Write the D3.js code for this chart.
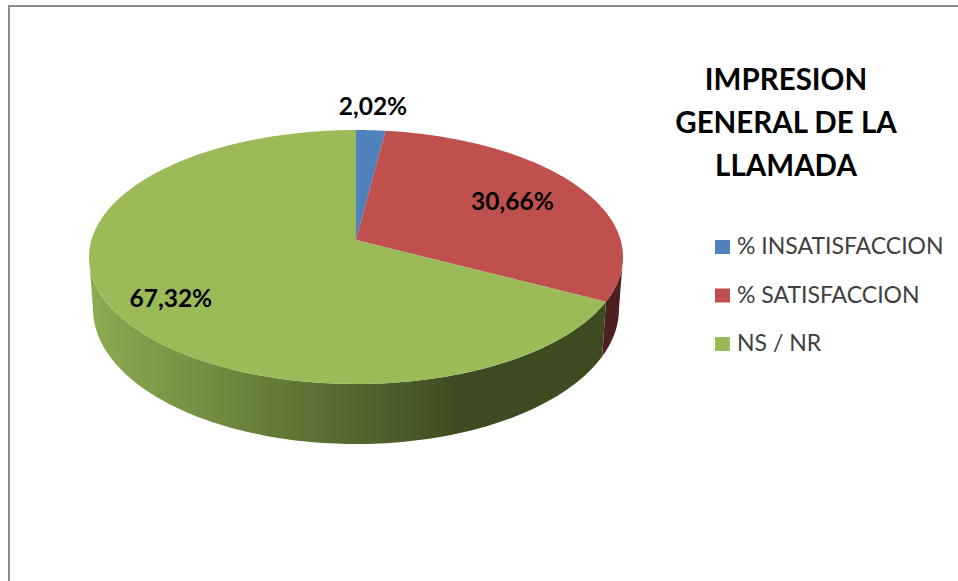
<!DOCTYPE html>
<html>
<head>
<meta charset="utf-8">
<script src="https://cdn.jsdelivr.net/npm/d3@7"></script>
<style>
	html, body { margin: 0; padding: 0; background: #fff; overflow: hidden; }
	text { font-family: Lato, 'Open Sans', sans-serif; }
</style>
</head>
<body>
<div id="chart-container"></div>
<script>
const categories = ['% INSATISFACCION', '% SATISFACCION', 'NS / NR'];
const values = [2.02, 30.66, 67.32];
const valueLabels = ['2,02%', '30,66%', '67,32%'];
const titleLines = ['IMPRESION', 'GENERAL DE LA', 'LLAMADA'];

const width = 958, height = 581;
const topColors = ['#4f81bd', '#c0504d', '#9bbb59'];
const sideColors = ['#2a4565', '#4f1f1f', '#3e4b21'];

const svg = d3
	.select('#chart-container')
	.append('svg')
	.attr('width', width)
	.attr('height', height)
	.style('display', 'block');

// chart frame, only top and left show in the crop
svg.append('path')
	.attr('d', 'M9,' + height + 'V6H' + width)
	.attr('fill', 'none')
	.attr('stroke', '#8c8c8c')
	.attr('stroke-width', 2);

// the tilted disc: k is the perspective foreshortening
const k = 0.134;
const topFace = { cx: 356, cy: 240, a: 264.6, b: 124.7 };
const bottomFace = { cx: 356, cy: 290.8, a: 260.6, b: 132.7 };
const project = (face, angle, r = 1) => {
	const u = r * Math.sin(angle), v = r * Math.cos(angle);
	const w = 1 + k * v;
	return [face.cx + (face.a * u) / w, face.cy - (face.b * v) / w];
};

const slices = d3.pie().sort(null).value(d => d)(values);
const line = d3.line();
const arcAngles = (a0, a1) => d3.range(0, 121).map(i => a0 + ((a1 - a0) * i) / 120);

const defs = svg.append('defs');
const grad = defs
	.append('linearGradient')
	.attr('id', 'green-side')
	.attr('gradientUnits', 'userSpaceOnUse')
	.attr('x1', 93)
	.attr('x2', 460)
	.attr('y1', 0)
	.attr('y2', 0);
grad.append('stop').attr('offset', '0%').attr('stop-color', '#8aab50');
grad.append('stop').attr('offset', '100%').attr('stop-color', sideColors[2]);

// side wall runs between the two silhouette points of the disc
const sideStart = Math.acos(-k);
const sideEnd = 2 * Math.PI - sideStart;

const sides = svg.append('g');
slices.forEach((s, i) => {
	const a0 = Math.max(s.startAngle, sideStart);
	const a1 = Math.min(s.endAngle, sideEnd);
	if (a1 <= a0) return;
	const angles = arcAngles(a0, a1);
	const pts = angles
		.map(a => project(topFace, a))
		.concat(angles.slice().reverse().map(a => project(bottomFace, a)));
	sides.append('path')
		.attr('d', line(pts) + 'Z')
		.attr('fill', i === 2 ? 'url(#green-side)' : sideColors[i]);
});

const tops = svg.append('g');
slices.forEach((s, i) => {
	const pts = [[topFace.cx, topFace.cy]].concat(
		arcAngles(s.startAngle, s.endAngle).map(a => project(topFace, a))
	);
	tops.append('path')
		.attr('d', line(pts) + 'Z')
		.attr('fill', topColors[i]);
});

// value labels
const labelRadius = [1.25, 0.7, 0.77];
const labelNudge = [-1, 0, 6];
svg.append('g')
	.selectAll('text')
	.data(slices)
	.enter()
	.append('text')
	.attr('x', (d, i) => project(topFace, (d.startAngle + d.endAngle) / 2, labelRadius[i])[0] - 1)
	.attr('y', (d, i) => project(topFace, (d.startAngle + d.endAngle) / 2, labelRadius[i])[1] + labelNudge[i])
	.attr('dy', '0.36em')
	.attr('text-anchor', 'middle')
	.attr('font-size', 24.5)
	.attr('font-weight', 700)
	.attr('fill', '#000')
	.text((d, i) => valueLabels[i]);

// title
svg.append('g')
	.selectAll('text')
	.data(titleLines)
	.enter()
	.append('text')
	.attr('x', 786)
	.attr('y', (d, i) => 90 + i * 43)
	.attr('text-anchor', 'middle')
	.attr('font-size', 29.5)
	.attr('font-weight', 700)
	.attr('fill', '#000')
	.text(d => d);

// legend
const legend = svg
	.append('g')
	.selectAll('g')
	.data(categories)
	.enter()
	.append('g')
	.attr('transform', (d, i) => 'translate(715,' + (240 + i * 48.5) + ')');

legend.append('rect')
	.attr('width', 15)
	.attr('height', 14)
	.attr('fill', (d, i) => topColors[i]);

legend.append('text')
	.attr('x', 22)
	.attr('y', 14)
	.attr('font-size', 23)
	.attr('fill', '#404040')
	.text(d => d);
</script>
</body>
</html>
